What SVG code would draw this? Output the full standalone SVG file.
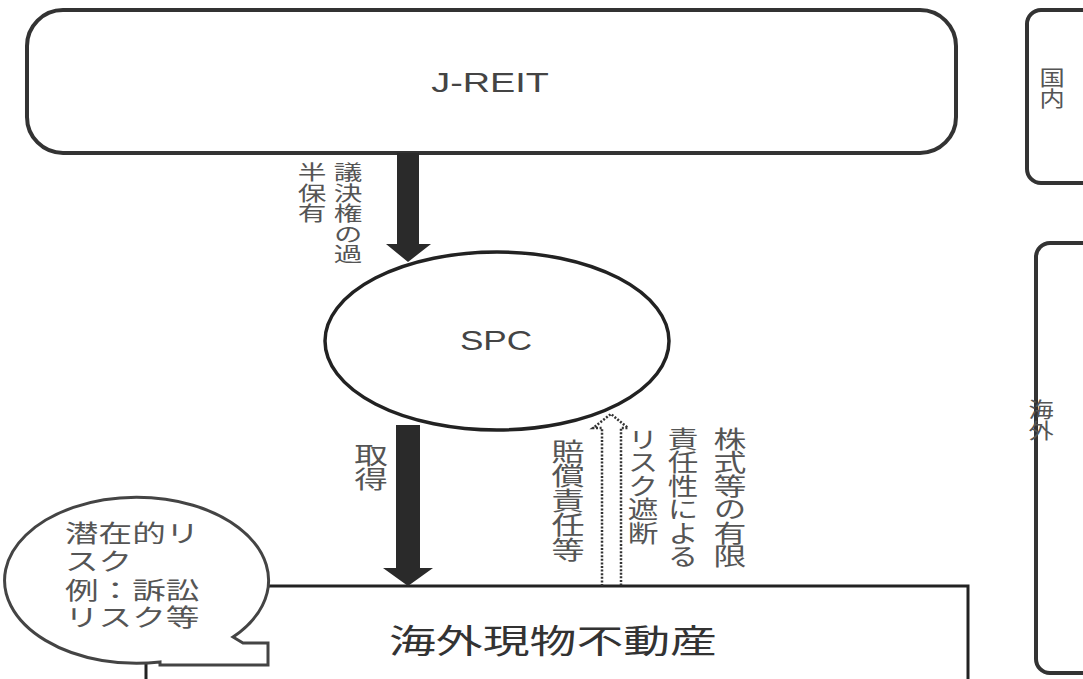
<svg xmlns="http://www.w3.org/2000/svg" width="1083" height="679" viewBox="0 0 1083 679">
<style>
.box{fill:#fff;stroke:#333;stroke-width:4}
.thin{fill:#fff;stroke:#222;stroke-width:3}
.lat{font-family:"Liberation Sans",Arial,sans-serif;fill:#444}
.jp{font-family:"Noto Sans CJK JP","Noto Sans CJK SC",sans-serif;fill:#555}
.jpt{font-family:"Liberation Sans","Noto Sans CJK JP","Noto Sans CJK SC",sans-serif;fill:#555}
.vt{writing-mode:vertical-rl}
.arrow{fill:#2a2a2a;stroke:none}
.dot{fill:none;stroke:#333;stroke-width:2.5;stroke-dasharray:2 1.6}
</style>
<rect width="1083" height="679" fill="#fff"/>

<g id="side-domestic">
<rect class="box" x="1027" y="10" width="90" height="173" rx="14"/>
<text class="jp vt" font-size="21" transform="translate(1052,67) scale(1.2,1)">国内</text>
</g>
<g id="side-overseas">
<rect class="box" x="1036" y="243" width="90" height="430" rx="14"/>
<text class="jp vt" font-size="21" transform="translate(1041,399) scale(1.2,1)">海外</text>
</g>

<g id="jreit">
<rect class="box" x="27" y="10" width="929" height="143" rx="36"/>
<text class="lat" font-size="27" text-anchor="middle" transform="translate(490,92) scale(1.4,1)">J-REIT</text>
</g>

<g id="spc">
<ellipse cx="497" cy="341" rx="172" ry="89" fill="#fff" stroke="#222" stroke-width="3.5"/>
<text class="lat" font-size="27" text-anchor="middle" transform="translate(496,350) scale(1.3,1)">SPC</text>
</g>

<g id="property">
<rect class="thin" x="146" y="586" width="822" height="120"/>
<text class="jp" font-size="33" style="fill:#333" text-anchor="middle" transform="translate(553,653) scale(1.42,1)">海外現物不動産</text>
</g>

<g id="risk-callout">
<path d="M160,662 A132,83 0 1 1 233,637 L243,643 H268 V665 H160 Z" fill="#fff" stroke="#444" stroke-width="3"/>
<text class="jpt" font-size="24" transform="translate(65,542) scale(1.4,1)"><tspan x="0" y="0">潜在的リ</tspan><tspan x="0" dy="28">スク</tspan><tspan x="0" dy="29">例：訴訟</tspan><tspan x="0" dy="27">リスク等</tspan></text>
</g>

<g id="connectors">
<path class="arrow" d="M397,153 H419 V244 H431 L408,262 L386,244 H397 Z"/>
<path class="arrow" d="M396,425 H420 V568 H433 L408,586 L383,568 H396 Z"/>
<path class="dot" d="M602,586 V428 H593 L611,414 L628,428 H621 V586"/>
</g>

<g id="labels">
<text class="jp vt" font-size="20.5" transform="translate(348,162) scale(1.4,1)">議決権の過</text>
<text class="jp vt" font-size="20.5" transform="translate(312,162) scale(1.4,1)">半保有</text>
<text class="jp vt" font-size="24" transform="translate(371,443) scale(1.4,1)">取得</text>
<text class="jp vt" font-size="24.5" transform="translate(568,439) scale(1.35,1)">賠償責任等</text>
<text class="jp vt" font-size="23.5" transform="translate(730,427) scale(1.4,1)">株式等の有限</text>
<text class="jp vt" font-size="23.5" transform="translate(683,427) scale(1.3,1)">責任性による</text>
<text class="jp vt" font-size="23.5" transform="translate(643,427) scale(1.3,1)">リスク遮断</text>
</g>
</svg>
